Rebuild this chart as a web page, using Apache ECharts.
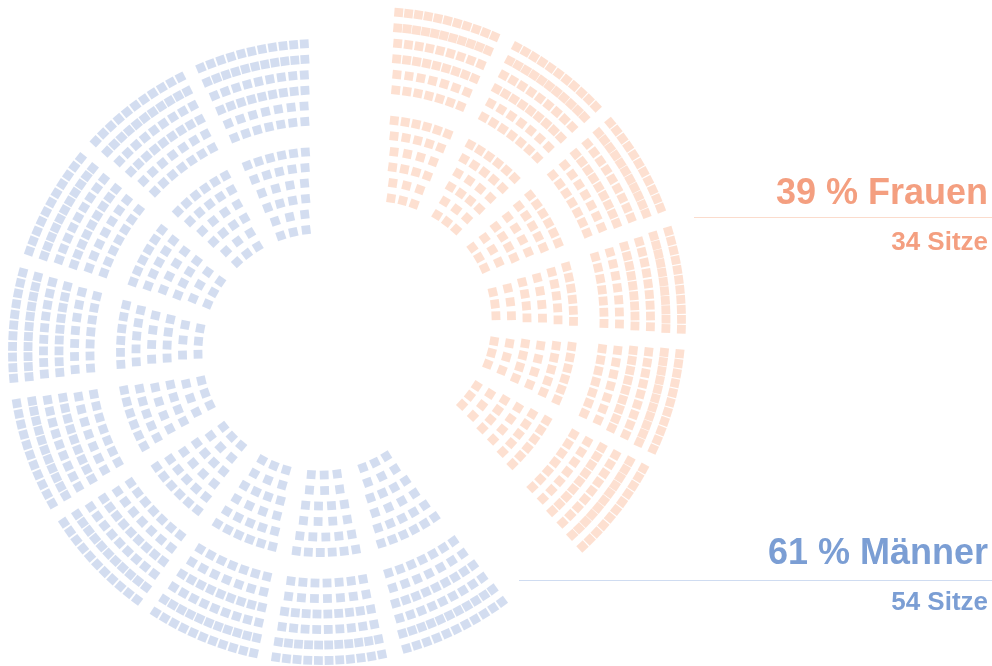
<!DOCTYPE html>
<html><head><meta charset="utf-8">
<script src="https://cdn.jsdelivr.net/npm/echarts@6/dist/echarts.min.js"></script>
<style>html,body{margin:0;padding:0;background:#fff}#c{width:992px;height:666px}</style>
</head><body><div id="c"></div>
<script>
// ---- data ----
const categories = ['Frauen', 'Männer'];
const percentages = [39, 61];
const seats = [34, 54];
// angle (deg, clockwise from 12 o'clock) of each block of seats
const frauenBlockAngles = [14, 37, 59.5, 82.5, 105.5, 128];
const maennerBlockAngles = [154, 178.5, 202.5, 226.5, 250.5, 275, 299, 323, 347];
// squares per row in one block, innermost row first
const innerRingRowCounts = [3, 3, 4, 4, 5, 6];
const outerRingRowCounts = [7, 7, 9, 9, 11, 11];

// ---- layout / style ----
const ROW_STEP = 15.5, INNER_R0 = 123, OUTER_R0 = 231, CELL_INSET = 13, AXIS_MAX = 330, SQ = 8.8;
const CENTERS = [[373, 320], [321, 352]];
const PITCH = [22.7, 24.2];
const SQ_COLORS = ['#fdd8c5', '#c8d5ec'];
const TXT_COLORS = ['#f49f80', '#7b9ed4'];
const LINE_COLORS = ['#fbdccd', '#cfdcf1'];
const FONT = '"Liberation Sans", Arial, Helvetica, sans-serif';

function buildSquares(angles, pitch) {
  const pts = [];
  angles.forEach(a => {
    [[INNER_R0, innerRingRowCounts], [OUTER_R0, outerRingRowCounts]].forEach(([r0, counts]) => {
      counts.forEach((n, i) => {
        const r = r0 + i * ROW_STEP;
        const s = (pitch * Math.PI / 180 * r - CELL_INSET) / n;
        for (let j = 0; j < n; j++) {
          const ang = a + ((j + 0.5 - n / 2) * s / r) * 180 / Math.PI;
          pts.push({ value: [r, ang], symbolRotate: -ang });
        }
      });
    });
  });
  return pts;
}

function label(x, y, text, size, color) {
  return { type: 'text', x: x, y: y, style: { text: text, fontFamily: FONT, fontWeight: 'bold', fontSize: size, fill: color, align: 'right', verticalAlign: 'middle' } };
}

const hidden = { axisLine: { show: false }, axisTick: { show: false }, axisLabel: { show: false }, splitLine: { show: false } };
const chart = echarts.init(document.getElementById('c'), null, { renderer: 'canvas' });
chart.setOption({
  animation: false,
  polar: CENTERS.map(c => ({ center: c, radius: AXIS_MAX })),
  angleAxis: [0, 1].map(i => Object.assign({ polarIndex: i, type: 'value', min: 0, max: 360, startAngle: 90, clockwise: true }, hidden)),
  radiusAxis: [0, 1].map(i => Object.assign({ polarIndex: i, type: 'value', min: 0, max: AXIS_MAX }, hidden)),
  series: [
    { name: categories[0], type: 'scatter', coordinateSystem: 'polar', polarIndex: 0, symbol: 'rect', symbolSize: SQ,
      itemStyle: { color: SQ_COLORS[0] }, silent: true, data: buildSquares(frauenBlockAngles, PITCH[0]) },
    { name: categories[1], type: 'scatter', coordinateSystem: 'polar', polarIndex: 1, symbol: 'rect', symbolSize: SQ,
      itemStyle: { color: SQ_COLORS[1] }, silent: true, data: buildSquares(maennerBlockAngles, PITCH[1]) }
  ],
  graphic: [
    label(988, 194, percentages[0] + ' % ' + categories[0], 36, TXT_COLORS[0]),
    { type: 'line', shape: { x1: 694, y1: 217.5, x2: 992, y2: 217.5 }, style: { stroke: LINE_COLORS[0], lineWidth: 1 } },
    label(988, 243, seats[0] + ' Sitze', 26, TXT_COLORS[0]),
    label(988, 554, percentages[1] + ' % ' + categories[1], 36, TXT_COLORS[1]),
    { type: 'line', shape: { x1: 519, y1: 580.5, x2: 992, y2: 580.5 }, style: { stroke: LINE_COLORS[1], lineWidth: 1 } },
    label(988, 603, seats[1] + ' Sitze', 26, TXT_COLORS[1])
  ]
});
</script></body></html>
